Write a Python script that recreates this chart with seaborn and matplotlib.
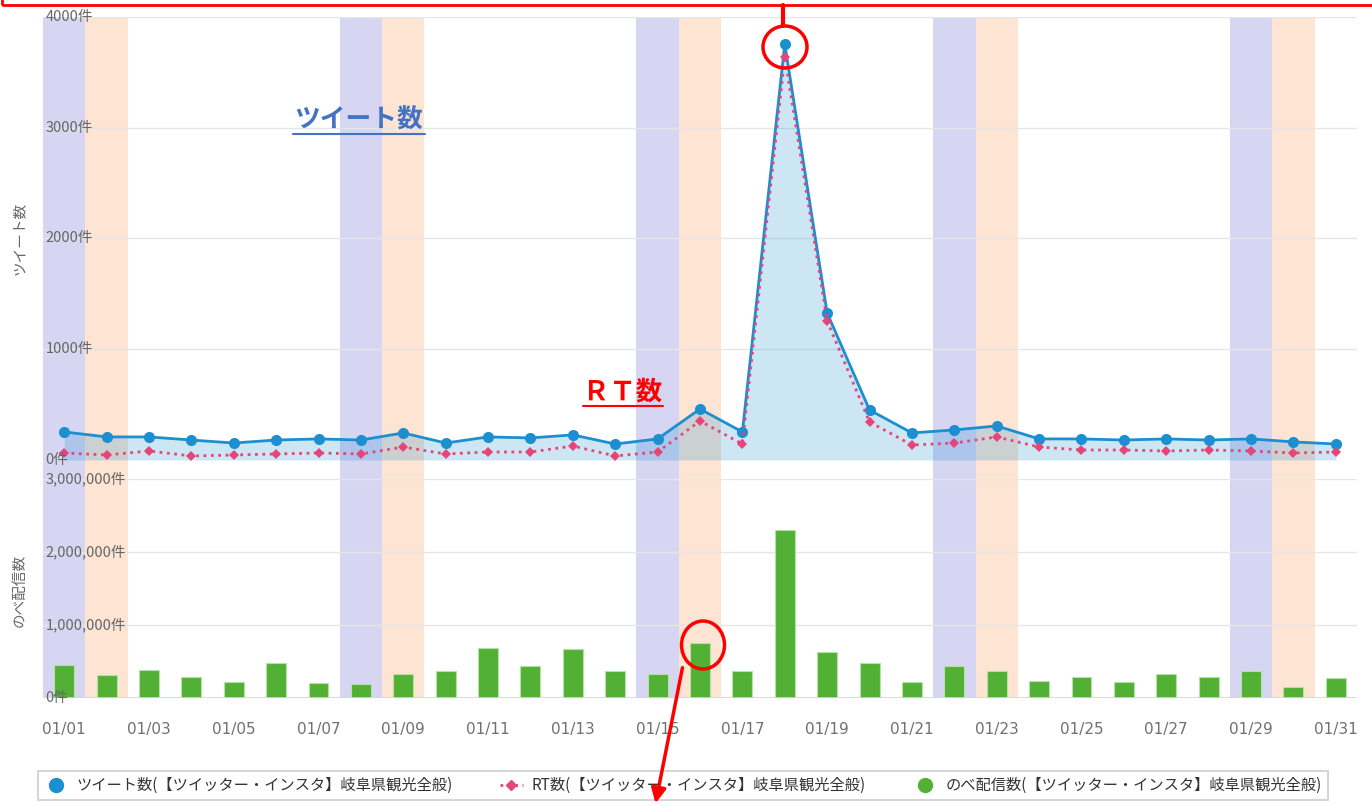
import matplotlib
matplotlib.use('Agg')
import matplotlib.pyplot as plt
import seaborn as sns
import pandas as pd
from matplotlib.lines import Line2D
from matplotlib.patches import Ellipse, Rectangle, FancyArrowPatch
from matplotlib.transforms import blended_transform_factory

sns.set_style('white')
plt.rcParams['font.family'] = ['Noto Sans CJK JP', 'DejaVu Sans']

# data (January, day 1..31)
dates = ['01/%02d' % d for d in range(1, 32)]
tweets = [253, 208, 208, 180, 153, 180, 190, 180, 244, 153, 208, 199, 226, 144, 190,
          460, 253, 3756, 1327, 451, 244, 271, 307, 190, 190, 180, 190, 180, 190, 163, 144]
retweets = [63, 45, 81, 36, 45, 54, 63, 54, 117, 54, 72, 72, 126, 36, 72,
            352, 144, 3640, 1255, 343, 135, 153, 208, 117, 90, 90, 81, 90, 81, 63, 72]
deliveries = [452000, 315000, 384000, 288000, 219000, 479000, 205000, 192000, 329000, 370000,
              685000, 438000, 671000, 370000, 329000, 753000, 370000, 2301000, 630000, 479000,
              219000, 438000, 370000, 233000, 288000, 219000, 329000, 288000, 370000, 151000, 274000]
saturdays = [0, 7, 14, 21, 28]
sundays = [1, 8, 15, 22, 29]

top_ticks = [0, 1000, 2000, 3000, 4000]
top_labels = ['0件', '1000件', '2000件', '3000件', '4000件']
bot_ticks = [0, 1000000, 2000000, 3000000]
bot_labels = ['0件', '1,000,000件', '2,000,000件', '3,000,000件']

legend_labels = ['ツイート数(【ツイッター・インスタ】岐阜県観光全般)',
                 'RT数(【ツイッター・インスタ】岐阜県観光全般)',
                 'のべ配信数(【ツイッター・インスタ】岐阜県観光全般)']

df = pd.DataFrame({'idx': range(len(dates)), 'tweets': tweets,
                   'retweets': retweets, 'deliveries': deliveries})

BLUE = '#1b8fcf'
PINK = '#e6457b'
GREEN = '#52b135'
SAT = '#d6d6f3'
SUN = '#fde4d3'
GRID = '#e6e6e6'
TXT = '#666666'

W, H = 1372, 806
fig = plt.figure(figsize=(W / 100, H / 100), dpi=100)


def fx(x):
    return x / W


def fy(y):
    return 1 - y / H


left, right = 43, 1357
ax1 = fig.add_axes([fx(left), fy(479), fx(right - left), (479 - 17) / H])
ax2 = fig.add_axes([fx(left), fy(698), fx(right - left), (698 - 479) / H])

for ax in (ax1, ax2):
    for i in saturdays:
        ax.axvspan(i - 0.5, i + 0.5, color=SAT, lw=0, zorder=0)
    for i in sundays:
        ax.axvspan(i - 0.5, i + 0.5, color=SUN, lw=0, zorder=0)
    ax.set_xlim(-0.5, len(dates) - 0.5)
    for s in ax.spines.values():
        s.set_visible(False)

# top: tweets + RT
for v in top_ticks[1:]:
    ax1.axhline(v, color=GRID, lw=1, zorder=0.5)
ax1.fill_between(df['idx'], df['tweets'], 0, color=BLUE, alpha=0.22, lw=0, zorder=1)
sns.lineplot(data=df, x='idx', y='tweets', ax=ax1, color=BLUE, lw=2, marker='o',
             markersize=8, markeredgewidth=0, zorder=3)
sns.lineplot(data=df, x='idx', y='retweets', ax=ax1, color=PINK, lw=2, ls=':',
             marker='D', markersize=5, markeredgewidth=0, zorder=4)
ax1.set_ylim(-172, 4000)
ax1.set_xticks([])
ax1.set_yticks([])
ax1.set_xlabel('')
ax1.set_ylabel('')
tr1 = blended_transform_factory(ax1.transAxes, ax1.transData)
for v, lab in zip(top_ticks, top_labels):
    ax1.text(0.002, v, lab, transform=tr1, ha='left', va='center', fontsize=10.5,
             color=TXT, zorder=6)

# bottom: deliveries
for v in bot_ticks[1:]:
    ax2.axhline(v, color=GRID, lw=1, zorder=0.5)
sns.barplot(data=df, x='idx', y='deliveries', ax=ax2, color=GREEN, native_scale=True,
            width=0.47, saturation=1, edgecolor='#b5e0a6', linewidth=0.8, zorder=2)
ax2.axhline(0, color='#ccd6eb', lw=1.2, zorder=3)
ax2.set_ylim(0, 3000000)
ax2.set_yticks([])
ax2.set_xticks(range(0, len(dates), 2))
ax2.set_xticklabels(dates[::2], fontsize=11, color='#707070', family='DejaVu Sans')
ax2.tick_params(axis='x', length=0, pad=17)
ax2.set_xlabel('')
ax2.set_ylabel('')
tr2 = blended_transform_factory(ax2.transAxes, ax2.transData)
for v, lab in zip(bot_ticks, bot_labels):
    ax2.text(0.002, v, lab, transform=tr2, ha='left', va='center', fontsize=10.5,
             color=TXT, zorder=6)

fig.text(fx(20), fy(238), 'ツイート数', rotation=90, ha='center', va='center',
         fontsize=10.5, color=TXT)
fig.text(fx(20), fy(590), 'のべ配信数', rotation=90, ha='center', va='center',
         fontsize=10.5, color=TXT)

# legend
handles = [Line2D([], [], marker='o', ls='none', color=BLUE, markersize=10),
           Line2D([], [], marker='D', ls=':', color=PINK, markersize=5, lw=2),
           Line2D([], [], marker='o', ls='none', color=GREEN, markersize=10)]
leg = fig.legend(handles, legend_labels, ncol=3, loc='lower left',
                 bbox_to_anchor=(fx(38), fy(800), fx(1328 - 38), (800 - 762) / H),
                 mode='expand', fontsize=11, frameon=True, fancybox=False,
                 edgecolor='#cccccc', handlelength=1.5, handletextpad=0.6,
                 borderaxespad=0)
for t in leg.get_texts():
    t.set_color('#333333')
leg.get_frame().set_linewidth(1.5)

# red annotations drawn on top of the screenshot
fig.patches.append(Rectangle((fx(2), fy(5)), fx(1400), 0.1, transform=fig.transFigure,
                             fill=False, edgecolor='red', lw=2, zorder=10))
fig.lines.append(Line2D([fx(783), fx(783)], [fy(5), fy(26)], transform=fig.transFigure,
                        color='red', lw=3, zorder=10))
fig.patches.append(Ellipse((fx(785), fy(47)), fx(44), 42 / H, transform=fig.transFigure,
                           fill=False, edgecolor='red', lw=2.5, zorder=10))
fig.patches.append(Ellipse((fx(703), fy(645)), fx(43), 48 / H, transform=fig.transFigure,
                           fill=False, edgecolor='red', lw=2.5, zorder=10))
fig.patches.append(FancyArrowPatch((fx(683), fy(665)), (fx(655), fy(806)),
                                   transform=fig.transFigure, arrowstyle='-|>',
                                   mutation_scale=22, color='red', lw=2.5, zorder=10))

fig.text(fx(359), fy(120), 'ツイート数', ha='center', va='center', fontsize=18.5,
         fontweight='bold', color='#4472c4', zorder=10)
fig.lines.append(Line2D([fx(293), fx(425)], [fy(134), fy(134)], transform=fig.transFigure,
                        color='#4472c4', lw=1.5, zorder=10))
fig.text(fx(623), fy(392), 'ＲＴ数', ha='center', va='center', fontsize=19,
         fontweight='bold', color='red', zorder=10)
fig.lines.append(Line2D([fx(583), fx(663)], [fy(406), fy(406)], transform=fig.transFigure,
                        color='red', lw=1.5, zorder=10))

fig.savefig('out.png', dpi=100)
